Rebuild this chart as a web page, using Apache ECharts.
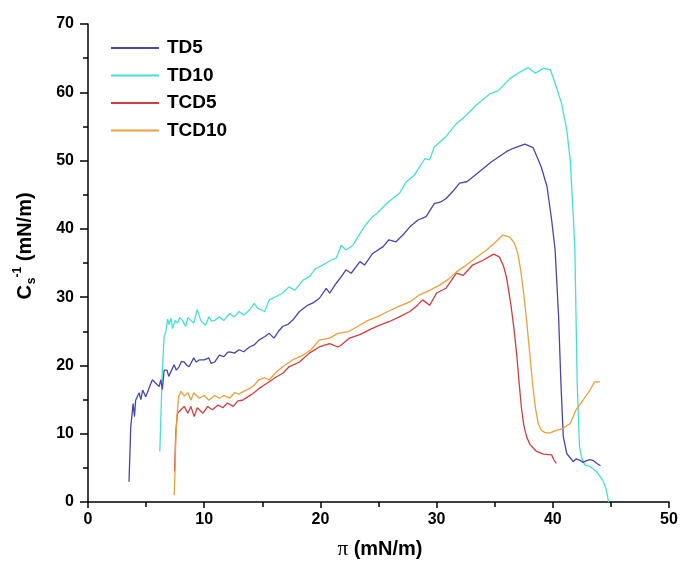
<!DOCTYPE html>
<html>
<head>
<meta charset="utf-8">
<script src="https://cdn.jsdelivr.net/npm/echarts@6/dist/echarts.min.js"></script>
<style>html,body{margin:0;padding:0;background:#fff}#c{width:682px;height:570px}</style>
</head>
<body>
<div id="c"></div>
<script>
var seriesNames = ['TD5', 'TD10', 'TCD5', 'TCD10'];
var xTicks = [0, 10, 20, 30, 40, 50];
var yTicks = [0, 10, 20, 30, 40, 50, 60, 70];

var td5 = [[3.53,2.97],[3.68,11.0],[3.88,14.4],[4.0,12.5],[4.1,14.9],[4.4,16.0],[4.55,15.0],[4.7,16.4],[4.97,15.4],[5.26,16.7],[5.54,17.9],[5.83,17.4],[6.12,16.9],[6.26,17.9],[6.4,16.5],[6.55,19.3],[6.8,19.3],[6.95,18.4],[7.12,18.3],[7.41,20.1],[7.6,19.3],[7.84,19.8],[8.05,20.6],[8.28,20.5],[8.5,20.0],[8.7,19.8],[9.1,21.1],[9.3,20.5],[9.57,20.8],[10.0,20.8],[10.4,21.1],[10.6,20.3],[10.9,20.5],[11.3,21.5],[11.7,21.3],[12.0,21.9],[12.2,22.0],[12.6,21.8],[13.0,22.3],[13.4,22.0],[13.9,22.7],[14.3,23.0],[14.7,23.7],[15.2,24.2],[15.6,24.7],[16.0,24.0],[16.4,25.0],[16.75,25.7],[17.2,26.0],[17.6,26.6],[18.2,27.9],[18.9,28.8],[19.4,29.2],[19.9,29.8],[20.5,31.3],[20.8,30.6],[21.35,32.0],[21.8,33.0],[22.2,34.0],[22.65,33.5],[23.4,35.2],[23.8,34.7],[24.5,36.4],[25.4,37.4],[25.9,38.4],[26.5,38.1],[27.1,39.1],[27.7,40.3],[28.4,41.3],[29.1,41.8],[29.8,43.7],[30.3,43.9],[30.8,44.4],[31.4,45.5],[31.98,46.7],[32.6,46.9],[33.2,47.7],[33.7,48.4],[34.7,49.8],[35.4,50.6],[36.0,51.3],[36.6,51.8],[37.6,52.4],[38.3,51.9],[39.0,49.1],[39.5,46.2],[39.9,41.3],[40.2,36.9],[40.5,27.1],[40.7,17.4],[40.9,9.6],[41.2,7.1],[41.75,5.9],[42.0,6.3],[42.3,6.15],[42.6,5.8],[42.9,6.05],[43.2,6.2],[43.5,6.05],[43.8,5.65],[44.1,5.3]];

var td10 = [[6.18,7.4],[6.3,14.0],[6.4,19.3],[6.55,24.2],[6.7,24.9],[6.85,26.8],[6.98,26.0],[7.15,26.9],[7.27,25.4],[7.5,26.6],[7.7,26.2],[7.9,27.0],[8.13,26.6],[8.4,25.7],[8.6,27.0],[8.85,26.6],[9.1,26.2],[9.4,28.2],[9.7,26.6],[10.1,25.9],[10.4,27.1],[10.65,26.5],[10.9,26.6],[11.3,27.1],[11.7,26.6],[12.2,27.6],[12.6,27.1],[13.0,27.9],[13.4,27.4],[13.9,28.1],[14.3,29.1],[14.6,28.4],[15.2,27.9],[15.6,29.6],[16.2,30.1],[16.75,30.6],[17.3,31.5],[17.8,31.0],[18.5,32.5],[19.05,33.0],[19.6,34.2],[20.2,34.7],[20.9,35.4],[21.35,35.7],[21.8,37.6],[22.2,36.9],[22.8,37.6],[23.4,39.3],[23.9,40.6],[24.5,41.8],[24.9,42.3],[25.4,43.2],[25.9,44.0],[26.8,45.2],[27.4,46.9],[28.1,47.9],[29.0,50.3],[29.4,50.1],[29.8,52.0],[30.8,53.5],[31.7,55.4],[32.6,56.7],[33.4,58.1],[34.6,59.8],[35.3,60.2],[36.3,62.0],[37.2,63.0],[37.9,63.6],[38.5,62.8],[39.2,63.5],[39.8,63.3],[40.3,60.8],[40.75,58.4],[41.2,54.5],[41.5,50.1],[41.75,42.3],[41.9,36.9],[42.0,27.1],[42.1,17.4],[42.3,8.1],[42.5,6.4],[42.75,5.4],[43.2,5.2],[43.8,4.4],[44.3,3.2],[44.6,1.8],[44.8,0]];

var tcd5 = [[7.45,4.5],[7.55,10.0],[7.65,12.2],[7.7,13.0],[8.0,13.5],[8.28,14.0],[8.6,13.0],[8.85,14.0],[9.14,12.5],[9.4,13.8],[9.9,13.0],[10.3,14.0],[10.7,13.5],[11.2,14.2],[11.6,13.8],[12.0,14.5],[12.5,14.0],[12.9,14.8],[13.3,14.9],[13.75,15.4],[14.2,15.9],[14.7,16.6],[15.4,17.4],[16.2,18.3],[16.8,18.9],[17.3,19.8],[18.2,20.5],[19.05,21.8],[19.9,22.7],[20.8,23.2],[21.5,22.7],[21.8,23.0],[22.5,24.0],[23.4,24.5],[24.2,25.2],[25.1,25.9],[25.9,26.4],[26.8,27.1],[27.7,27.9],[28.4,28.9],[28.8,29.6],[29.4,28.8],[30.0,30.6],[30.8,31.3],[31.7,33.5],[32.3,33.2],[33.1,34.7],[34.0,35.4],[34.9,36.3],[35.4,35.9],[35.75,34.6],[36.0,33.0],[36.2,31.0],[36.4,28.8],[36.65,25.5],[36.9,21.5],[37.1,17.5],[37.3,13.8],[37.5,11.3],[37.75,9.5],[38.05,8.4],[38.6,7.4],[39.2,7.0],[39.9,6.9],[40.1,6.15],[40.3,5.65]];

var tcd10 = [[7.41,1.0],[7.5,5.0],[7.56,9.6],[7.7,13.5],[7.8,15.4],[8.0,16.2],[8.3,15.5],[8.6,16.0],[8.85,14.9],[9.1,16.0],[9.57,15.2],[10.0,15.6],[10.4,14.9],[10.9,15.6],[11.3,15.2],[11.7,15.6],[12.2,15.2],[12.6,16.0],[13.0,15.8],[13.4,16.2],[13.9,16.6],[14.3,17.1],[14.7,17.9],[15.2,18.2],[15.6,17.9],[16.2,19.0],[16.75,19.8],[17.6,20.8],[18.5,21.5],[19.2,22.3],[19.9,23.7],[20.8,24.0],[21.5,24.7],[22.35,24.9],[23.2,25.7],[24.1,26.6],[24.9,27.1],[25.8,27.9],[26.7,28.6],[27.7,29.3],[28.5,30.3],[29.4,31.0],[30.3,31.8],[31.0,32.6],[31.7,33.7],[32.4,34.5],[33.1,35.4],[34.3,36.9],[35.1,38.1],[35.7,39.1],[36.3,38.8],[36.7,37.9],[37.0,36.3],[37.25,33.8],[37.5,30.5],[37.75,26.5],[38.0,22.0],[38.25,17.5],[38.5,13.8],[38.75,11.5],[39.0,10.5],[39.3,10.2],[39.7,10.1],[40.3,10.5],[40.9,10.8],[41.5,11.5],[42.0,13.5],[42.6,14.9],[43.2,16.4],[43.6,17.6],[44.05,17.6]];

var seriesData = [td5, td10, tcd5, tcd10];
var colors = ['#4646ac', '#44e0d4', '#d23c3c', '#eaa03c'];

var FONT = '"Liberation Sans", Arial, sans-serif';
var axisLineStyle = { color: '#000', width: 1.5 };

var chart = echarts.init(document.getElementById('c'), null, { renderer: 'canvas' });
chart.setOption({
  animation: false,
  backgroundColor: '#fff',
  color: colors,
  grid: { left: 88, right: 13, top: 24, bottom: 68, containLabel: false },
  legend: {
    orient: 'vertical',
    left: 106,
    top: 33,
    icon: 'rect',
    itemWidth: 48,
    itemHeight: 2,
    itemGap: 7.5,
    data: seriesNames,
    textStyle: { fontFamily: FONT, fontWeight: 'bold', fontSize: 19, color: '#000', lineHeight: 20, padding: [0, 0, 0, 3] }
  },
  xAxis: {
    type: 'value',
    min: xTicks[0],
    max: xTicks[xTicks.length - 1],
    interval: 10,
    axisLine: { show: true, onZero: false, lineStyle: axisLineStyle },
    axisTick: { show: true, length: 6, lineStyle: axisLineStyle },
    minorTick: { show: true, splitNumber: 2, length: 5, lineStyle: axisLineStyle },
    splitLine: { show: false },
    minorSplitLine: { show: false },
    axisLabel: { color: '#000', fontFamily: FONT, fontWeight: 'bold', fontSize: 16, margin: 10 }
  },
  yAxis: {
    type: 'value',
    min: yTicks[0],
    max: yTicks[yTicks.length - 1],
    interval: 10,
    axisLine: { show: true, onZero: false, lineStyle: axisLineStyle },
    axisTick: { show: true, length: 8, lineStyle: axisLineStyle },
    minorTick: { show: true, splitNumber: 2, length: 5, lineStyle: axisLineStyle },
    splitLine: { show: false },
    minorSplitLine: { show: false },
    axisLabel: { color: '#000', fontFamily: FONT, fontWeight: 'bold', fontSize: 16, margin: 14 }
  },
  graphic: [
    {
      type: 'text',
      x: 25,
      y: 246,
      rotation: Math.PI / 2,
      style: {
        text: '{a|C}{b|s}{c|-1}{a| (mN/m)}',
        align: 'center',
        verticalAlign: 'middle',
        rich: {
          a: { fontFamily: FONT, fontWeight: 'bold', fontSize: 20, fill: '#000', verticalAlign: 'middle' },
          b: { fontFamily: FONT, fontWeight: 'bold', fontSize: 12, fill: '#000', padding: [14, 0, 0, 1], verticalAlign: 'middle' },
          c: { fontFamily: FONT, fontWeight: 'bold', fontSize: 12, fill: '#000', padding: [0, 0, 14, 0], verticalAlign: 'middle' }
        }
      }
    },
    {
      type: 'text',
      x: 380,
      y: 549,
      style: {
        text: '{p|π}{q| (mN/m)}',
        align: 'center',
        verticalAlign: 'middle',
        rich: {
          p: { fontFamily: '"Liberation Serif", "DejaVu Serif", serif', fontSize: 21, fill: '#000' },
          q: { fontFamily: FONT, fontWeight: 'bold', fontSize: 20, fill: '#000' }
        }
      }
    }
  ],
  series: seriesNames.map(function (name, i) {
    return {
      name: name,
      type: 'line',
      data: seriesData[i],
      symbol: 'none',
      showSymbol: false,
      lineStyle: { width: 1.3, color: colors[i] },
      itemStyle: { color: colors[i] },
      z: i === 1 ? 1 : 2
    };
  })
});
</script>
</body>
</html>
